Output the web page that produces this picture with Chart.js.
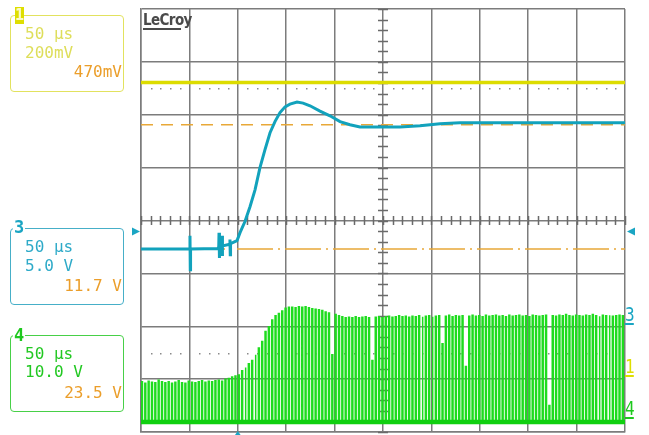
<!DOCTYPE html>
<html>
<head>
<meta charset="utf-8">
<script src="https://cdn.jsdelivr.net/npm/chart.js@4.4.1/dist/chart.umd.min.js"></script>
<style>
  html, body { margin: 0; padding: 0; background: #fff; }
  #wrap { position: relative; width: 649px; height: 435px; overflow: hidden; }
  #scope { position: absolute; left: 0; top: 0; }
  .box { position: absolute; left: 10px; width: 114px; height: 77px; border: 1px solid; border-radius: 4px; box-sizing: border-box; }
  .t { position: absolute; font-family: "DejaVu Sans Mono", monospace; font-size: 16px; line-height: 16px; white-space: pre; }
  .l { left: 25px; }
  .r { right: 527px; text-align: right; }
  .tag { position: absolute; font-family: "DejaVu Sans Mono", monospace; font-weight: bold; font-size: 17px; line-height: 17px; background: #fff; padding: 0 1px; }
  .side { position: absolute; left: 625px; font-family: "DejaVu Sans Mono", monospace; font-size: 20px; line-height: 20px; transform: scaleX(0.8); transform-origin: left top; }
  .side span { display: block; width: 11px; border-bottom: 2px solid; line-height: 17px; }
</style>
</head>
<body>
<div id="wrap">
  <canvas id="scope" width="649" height="435"></canvas>

  <div class="box" style="top:15px;border-color:#e2e25e;"></div>
  <div style="position:absolute;left:15px;top:7px;width:9px;height:17px;background:#dede00;color:#fafac8;font:bold 15px/17px 'DejaVu Sans Mono',monospace;text-align:center;">1</div>
  <div class="t l" style="top:26px;color:#dede5a;">50 µs</div>
  <div class="t l" style="top:45px;color:#dede5a;">200mV</div>
  <div class="t r" style="top:64px;color:#eb9e2a;">470mV</div>

  <div class="box" style="top:228px;border-color:#46afc8;"></div>
  <div class="tag" style="left:13px;top:219px;color:#1aa5c3;">3</div>
  <div class="t l" style="top:239px;color:#2eaac8;">50 µs</div>
  <div class="t l" style="top:258px;color:#2eaac8;">5.0 V</div>
  <div class="t r" style="top:278px;color:#eb9e2a;">11.7 V</div>

  <div class="box" style="top:335px;border-color:#48d048;"></div>
  <div class="tag" style="left:13px;top:327px;color:#1ec81e;">4</div>
  <div class="t l" style="top:346px;color:#22c822;">50 µs</div>
  <div class="t l" style="top:364px;color:#22c822;">10.0 V</div>
  <div class="t r" style="top:385px;color:#eb9e2a;">23.5 V</div>

  <div style="position:absolute;left:143px;top:12px;font:bold 15px/17px 'DejaVu Sans Condensed','DejaVu Sans',sans-serif;letter-spacing:-0.6px;color:#4a4a4a;">LeCroy</div>
  <div style="position:absolute;left:143px;top:28px;width:38px;height:0;border-top:2px solid #4a4a4a;"></div>

  <div class="side" style="top:306px;color:#1aa5c3;"><span>3</span></div>
  <div class="side" style="top:358px;color:#dede00;"><span>1</span></div>
  <div class="side" style="top:400px;color:#1ec81e;"><span>4</span></div>
</div>

<script>
// time axis: 10 div x 50 us, vertical axis: 8 div (-4..4), values in divisions
const timeTicks = [0, 50, 100, 150, 200, 250, 300, 350, 400, 450, 500];
const divTicks = [-4, -3, -2, -1, 0, 1, 2, 3, 4];

// channel 1 (yellow) - flat
const ch1Time = [0, 500];
const ch1Level = [2.61, 2.61];

// channel 3 (cyan) - output rising with overshoot
const ch3Time = [0, 50.3, 50.6, 50.9, 51.2, 79.5, 80.3, 80.6, 80.9, 81.2, 83.4, 83.7, 84.0, 84.3,
  91.6, 91.9, 92.2, 92.5, 99.2, 102.3, 107.4, 112.6, 117.8, 122.9, 128.1, 133.3, 138.4, 143.6,
  148.8, 153.9, 161.2, 167.4, 174.6, 184.9, 195.2, 205.6, 215.9, 226.2, 250, 267.6, 288.2,
  298.6, 308.9, 329.5, 500];
const ch3Level = [-0.54, -0.54, -0.29, -0.93, -0.54, -0.53, -0.50, -0.23, -0.71, -0.50, -0.49, -0.29, -0.67, -0.48,
  -0.45, -0.36, -0.65, -0.44, -0.38, -0.23, -0.02, 0.26, 0.58, 1.00, 1.34, 1.66, 1.87, 2.04,
  2.15, 2.20, 2.24, 2.22, 2.17, 2.07, 1.98, 1.87, 1.81, 1.77, 1.77, 1.77, 1.79,
  1.81, 1.83, 1.85, 1.85];

// cursor levels (orange)
const cursorHigh = 1.81;
const cursorLow = -0.54;

// channel 4 (green) - switching node, one value per pulse
const pulseStart = 0.5;
const pulsePeriod = 3.45;
const pulseWidth = 1.0;
const ch4Base = -3.81;
const ch4Tops = [
  -3.05, -3.08, -3.04, -3.06, -3.07, -3.02, -3.05, -3.07, -3.05, -3.08,
  -3.06, -3.03, -3.07, -3.08, -3.04, -3.06, -3.07, -3.05, -3.03, -3.06,
  -3.04, -3.05, -3.03, -3.02, -3.04, -3.00, -2.99, -2.96, -2.94, -2.92,
  -2.84, -2.78, -2.71, -2.65, -2.54, -2.41, -2.29, -2.10, -2.01, -1.88,
  -1.80, -1.76, -1.71, -1.66, -1.64, -1.64, -1.65, -1.63, -1.64, -1.63,
  -1.65, -1.67, -1.68, -1.69, -1.70, -1.73, -1.75, -2.54, -1.78, -1.80,
  -1.82, -1.84, -1.83, -1.84, -1.82, -1.84, -1.83, -1.82, -1.84, -2.65,
  -1.83, -1.82, -1.84, -1.82, -1.81, -1.83, -1.82, -1.80, -1.82, -1.81,
  -1.83, -1.81, -1.82, -1.80, -1.82, -1.81, -1.80, -1.82, -1.81, -1.80,
  -2.33, -1.81, -1.79, -1.82, -1.80, -1.81, -1.80, -2.76, -1.81, -1.79,
  -1.81, -1.80, -1.82, -1.79, -1.81, -1.80, -1.79, -1.81, -1.80, -1.82,
  -1.79, -1.81, -1.80, -1.79, -1.81, -1.80, -1.82, -1.79, -1.80, -1.81,
  -1.80, -1.79, -3.50, -1.80, -1.81, -1.79, -1.80, -1.78, -1.80, -1.81,
  -1.79, -1.80, -1.81, -1.79, -1.80, -1.78, -1.80, -1.81, -1.79, -1.80,
  -1.79, -1.81, -1.80, -1.79, -1.80
];

// markers: trigger level and trigger time
const trigLevel = -0.21;
const trigTime = 100;

const ch1Data = ch1Time.map((t, i) => ({ x: t, y: ch1Level[i] }));
const ch3Data = ch3Time.map((t, i) => ({ x: t, y: ch3Level[i] }));
const ch4Data = [];
ch4Tops.forEach((top, i) => {
  const t = pulseStart + i * pulsePeriod;
  ch4Data.push({ x: t, y: ch4Base }, { x: t, y: top }, { x: t + pulseWidth, y: top }, { x: t + pulseWidth, y: ch4Base });
});

const gridColor = '#7c7c7c';

const scopeMarks = {
  id: 'scopeMarks',
  beforeDatasetsDraw(chart) {
    const { ctx, scales: { x, y } } = chart;
    const cx = x.getPixelForValue(250);
    const cy = y.getPixelForValue(0);
    ctx.save();
    ctx.strokeStyle = '#6a6a6a';
    ctx.lineWidth = 1.5;
    ctx.beginPath();
    for (let v = -40; v <= 40; v += 2) {
      const py = Math.round(y.getPixelForValue(v / 10)) + 0.5;
      ctx.moveTo(cx - 5, py);
      ctx.lineTo(cx + 5, py);
    }
    for (let t = 0; t <= 500; t += 10) {
      const px = Math.round(x.getPixelForValue(t)) + 0.5;
      ctx.moveTo(px, cy - 4.5);
      ctx.lineTo(px, cy + 4.5);
    }
    ctx.stroke();
    ctx.fillStyle = '#8a8a8a';
    [2.5, -2.5].forEach(v => {
      const py = y.getPixelForValue(v);
      for (let t = 10; t < 500; t += 10) {
        if (t % 50 === 0) continue;
        ctx.fillRect(Math.round(x.getPixelForValue(t)), Math.round(py), 1.5, 1.5);
      }
    });
    ctx.restore();
  },
  afterDatasetsDraw(chart) {
    const { ctx, scales: { x, y }, chartArea } = chart;
    const ty = y.getPixelForValue(trigLevel);
    ctx.save();
    ctx.fillStyle = '#1aa5c3';
    ctx.beginPath();
    ctx.moveTo(chartArea.left - 1, ty);
    ctx.lineTo(chartArea.left - 9, ty - 4);
    ctx.lineTo(chartArea.left - 9, ty + 4);
    ctx.closePath();
    ctx.moveTo(chartArea.right + 2, ty);
    ctx.lineTo(chartArea.right + 10, ty - 4);
    ctx.lineTo(chartArea.right + 10, ty + 4);
    ctx.closePath();
    const tx = x.getPixelForValue(trigTime);
    ctx.moveTo(tx, chartArea.bottom - 1);
    ctx.lineTo(tx - 3.5, chartArea.bottom + 4);
    ctx.lineTo(tx + 3.5, chartArea.bottom + 4);
    ctx.closePath();
    ctx.fill();
    ctx.restore();
  }
};

const ctx = document.getElementById('scope').getContext('2d');
new Chart(ctx, {
  type: 'scatter',
  data: {
    datasets: [
      { data: ch1Data, borderColor: '#dcdc00', borderWidth: 3.5, order: 0 },
      { data: ch3Data, borderColor: '#12a2bc', borderWidth: 3, order: 1 },
      { data: [{ x: 0, y: cursorHigh }, { x: 500, y: cursorHigh }], borderColor: '#e8a838', borderWidth: 1.5, borderDash: [12, 8], order: 2 },
      { data: [{ x: 0, y: cursorLow }, { x: 500, y: cursorLow }], borderColor: '#e8a838', borderWidth: 1.5, borderDash: [36, 5, 2, 5], order: 2 },
      { data: [{ x: 0, y: ch4Base }, { x: 500, y: ch4Base }], borderColor: '#10d010', borderWidth: 4.5, order: 3 },
      { data: ch4Data, borderColor: '#1edc1e', borderWidth: 1.5, order: 4 }
    ].map(d => Object.assign({ showLine: true, pointRadius: 0, tension: 0, fill: false }, d))
  },
  options: {
    responsive: false,
    animation: false,
    events: [],
    layout: { padding: { left: 141, top: 9, right: 24, bottom: 3 } },
    plugins: { legend: { display: false }, tooltip: { enabled: false } },
    scales: {
      x: {
        type: 'linear', min: 0, max: 500,
        afterBuildTicks: s => { s.ticks = timeTicks.map(v => ({ value: v })); },
        ticks: { display: false },
        grid: { color: gridColor, lineWidth: 1.5, drawTicks: false },
        border: { display: true, color: gridColor, width: 1.5 }
      },
      y: {
        type: 'linear', min: -4, max: 4,
        afterBuildTicks: s => { s.ticks = divTicks.map(v => ({ value: v })); },
        ticks: { display: false },
        grid: { color: gridColor, lineWidth: 1.5, drawTicks: false },
        border: { display: true, color: gridColor, width: 1.5 }
      }
    }
  },
  plugins: [scopeMarks]
});
</script>
</body>
</html>
